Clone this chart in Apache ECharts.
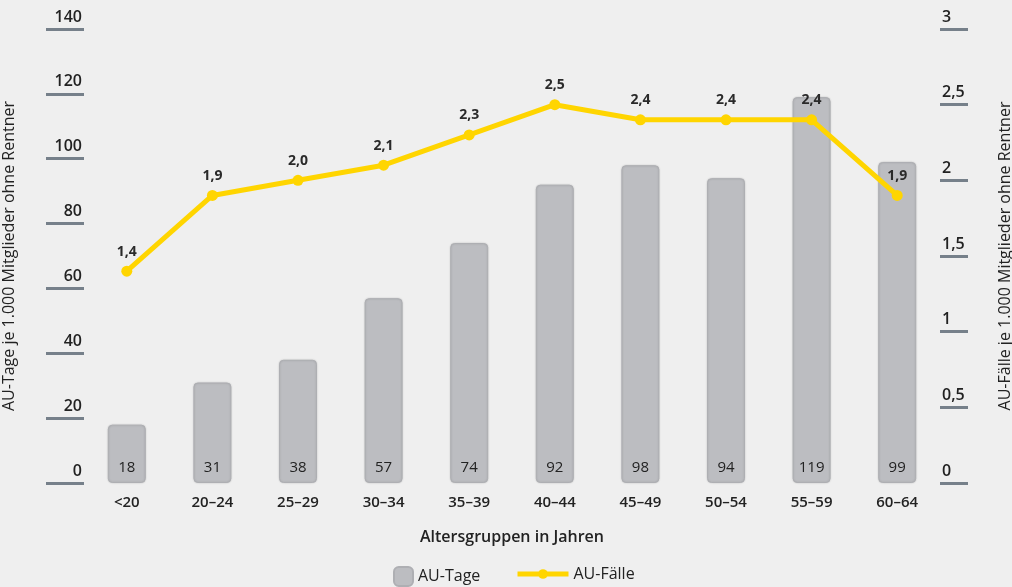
<!DOCTYPE html>
<html>
<head>
<meta charset="utf-8">
<script src="https://cdn.jsdelivr.net/npm/echarts@6/dist/echarts.min.js"></script>
<style>
  html, body { margin: 0; padding: 0; background: #efefef; }
  #chart { width: 1012px; height: 587px; }
</style>
</head>
<body>
<div id="chart"></div>
<script>
// Age groups and values
const categories = ['<20', '20–24', '25–29', '30–34', '35–39', '40–44', '45–49', '50–54', '55–59', '60–64'];
const auTage = [18, 31, 38, 57, 74, 92, 98, 94, 119, 99];
const auFaelle = [1.4, 1.9, 2.0, 2.1, 2.3, 2.5, 2.4, 2.4, 2.4, 1.9];
const leftTicks = [0, 20, 40, 60, 80, 100, 120, 140];
const rightTicks = [0, 0.5, 1, 1.5, 2, 2.5, 3];

const FONT = '"Open Sans", "Noto Sans", sans-serif';
const TEXT = '#222';
const comma = v => String(v).replace('.', ',');

const chart = echarts.init(document.getElementById('chart'), null, { renderer: 'canvas' });

chart.setOption({
  backgroundColor: '#efefef',
  textStyle: { fontFamily: FONT, color: TEXT },
  grid: { left: 84, right: 72, top: 29, bottom: 104, outerBoundsMode: 'none', containLabel: false },
  legend: [
    {
      data: ['AU-Tage'],
      left: 388, top: 561,
      itemWidth: 19, itemHeight: 19,
      icon: 'roundRect',
      textStyle: { fontFamily: FONT, fontSize: 16, color: TEXT }
    },
    {
      data: ['AU-Fälle'],
      left: 510, top: 561,
      itemWidth: 51, itemHeight: 12,
      lineStyle: { width: 5, color: '#ffd500' },
      textStyle: { fontFamily: FONT, fontSize: 16, color: TEXT }
    }
  ],
  xAxis: {
    type: 'category',
    data: categories,
    name: 'Altersgruppen in Jahren',
    nameLocation: 'middle',
    nameGap: 46,
    nameTextStyle: { fontFamily: FONT, fontSize: 16, fontWeight: 600, color: TEXT },
    axisLine: { show: false },
    axisTick: { show: false },
    axisLabel: { margin: 12, fontFamily: FONT, fontSize: 15, fontWeight: 600, color: TEXT }
  },
  yAxis: [
    {
      type: 'value',
      min: leftTicks[0],
      max: leftTicks[leftTicks.length - 1],
      interval: 20,
      name: 'AU-Tage je 1.000 Mitglieder ohne Rentner',
      nameLocation: 'middle',
      nameGap: 67,
      nameTextStyle: { fontFamily: FONT, fontSize: 16, fontWeight: 500, color: TEXT },
      splitLine: { show: false },
      axisLine: { show: false },
      axisTick: { show: true, length: 38, lineStyle: { color: '#76808a', width: 3 } },
      axisLabel: {
        margin: 2,
        verticalAlign: 'bottom',
        padding: [0, 0, 4, 0],
        fontFamily: FONT, fontSize: 16, fontWeight: 600, color: TEXT
      }
    },
    {
      type: 'value',
      min: rightTicks[0],
      max: rightTicks[rightTicks.length - 1],
      interval: 0.5,
      name: 'AU-Fälle je 1.000 Mitglieder ohne Rentner',
      nameLocation: 'middle',
      nameGap: 57,
      nameRotate: 90,
      nameTextStyle: { fontFamily: FONT, fontSize: 16, fontWeight: 500, color: TEXT },
      splitLine: { show: false },
      axisLine: { show: false },
      axisTick: { show: true, length: 28, lineStyle: { color: '#76808a', width: 3 } },
      axisLabel: {
        margin: 2,
        verticalAlign: 'bottom',
        padding: [0, 0, 4, 0],
        formatter: v => comma(v),
        fontFamily: FONT, fontSize: 16, fontWeight: 600, color: TEXT
      }
    }
  ],
  series: [
    {
      name: 'AU-Tage',
      type: 'bar',
      yAxisIndex: 0,
      data: auTage,
      barWidth: 38,
      itemStyle: {
        color: '#bcbdc1',
        borderColor: '#aeafb3',
        borderWidth: 1,
        borderRadius: 4,
        shadowColor: 'rgba(0,0,0,0.15)',
        shadowBlur: 2
      },
      label: {
        show: true,
        position: 'insideBottom',
        distance: 8,
        fontFamily: FONT, fontSize: 15, fontWeight: 500, color: '#222'
      },
      z: 2
    },
    {
      name: 'AU-Fälle',
      type: 'line',
      yAxisIndex: 1,
      data: auFaelle,
      symbol: 'circle',
      symbolSize: 11,
      lineStyle: { color: '#ffd500', width: 5 },
      itemStyle: { color: '#ffd500' },
      label: {
        show: true,
        position: 'top',
        distance: 7,
        formatter: p => p.value.toFixed(1).replace('.', ','),
        fontFamily: FONT, fontSize: 14, fontWeight: 700, color: '#2a2a2a'
      },
      z: 3
    }
  ]
});
</script>
</body>
</html>
